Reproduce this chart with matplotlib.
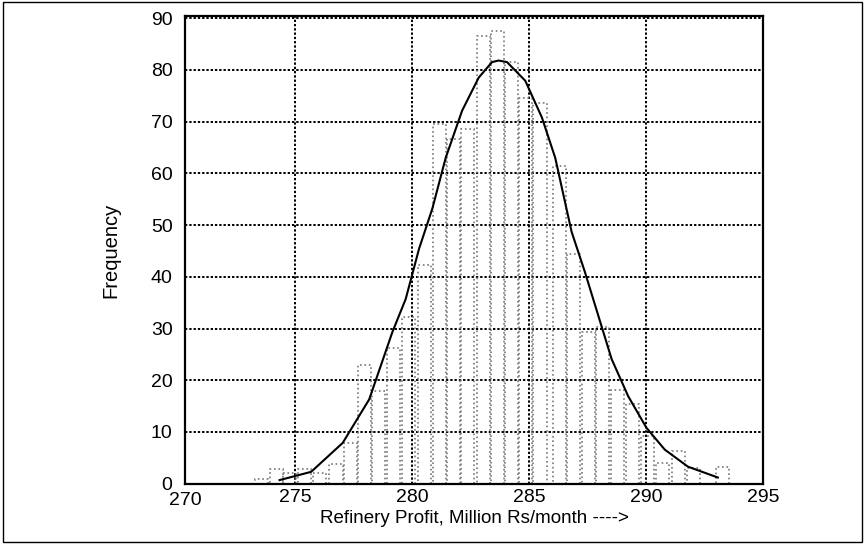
import matplotlib.pyplot as plt
from matplotlib.patches import Rectangle

plt.rcParams['font.family'] = ['Liberation Sans', 'DejaVu Sans']

# histogram bins (left edge, Million Rs/month) and counts
bin_left = [273.28, 273.92, 274.47, 275.11, 275.75, 276.47, 277.11, 277.70,
            278.30, 278.94, 279.58, 280.26, 280.90, 281.49, 282.09, 282.77,
            283.36, 283.96, 284.56, 285.19, 286.04, 286.64, 287.28, 287.87,
            288.51, 289.15, 289.79, 290.43, 291.11, 291.75, 292.34, 292.98]
counts = [0.9, 2.8, 2.0, 2.9, 2.1, 3.9, 7.9, 23.0,
          18.0, 26.3, 32.3, 42.3, 69.5, 66.6, 68.5, 86.5,
          87.5, 81.5, 74.5, 73.5, 61.5, 44.5, 29.3, 30.3,
          18.2, 15.4, 9.2, 4.0, 6.3, 3.1, 0.0, 3.3]

# fitted curve
fit_x = [274.34, 275.69, 277.04, 278.17, 279.16, 279.73, 280.30, 280.87,
         281.44, 282.14, 282.85, 283.42, 283.70, 284.06, 284.84, 285.55,
         286.12, 286.82, 287.39, 287.96, 288.53, 289.24, 290.02, 290.80,
         291.79, 293.07]
fit_y = [0.7, 2.3, 7.9, 16.3, 29.3, 35.7, 45.4, 53.2,
         63.0, 72.1, 78.5, 81.5, 81.8, 81.5, 77.9, 70.8,
         63.0, 48.7, 40.9, 32.5, 24.1, 16.9, 10.8, 6.6,
         3.3, 1.2]

fig = plt.figure(figsize=(8.65, 5.44), dpi=100)
ax = fig.add_axes([0.2139, 0.1108, 0.6682, 0.8597])

ax.bar(bin_left, counts, width=0.56, align='edge', facecolor='none',
       edgecolor='#777777', linestyle=':', linewidth=1.2, zorder=2)
ax.plot(fit_x, fit_y, color='black', linewidth=1.5, zorder=3)

ax.set_xlim(270.3, 295.0)
ax.set_ylim(0, 90.4)
ax.set_xticks([275, 280, 285, 290, 295])
ax.set_yticks(range(0, 91, 10))
ax.tick_params(length=0, labelsize=14, pad=9)
ax.tick_params(axis='x', pad=4)
ax.text(270.3, -1.6, '270', ha='center', va='top', fontsize=14)

ax.grid(True, color='black', linestyle=(0, (1.2, 1.0)), linewidth=1.4, zorder=1)
ax.set_axisbelow(True)
for sp in ax.spines.values():
    sp.set_linewidth(1.6)

ax.set_ylabel('Frequency', fontsize=14.5, labelpad=22)
ax.set_xlabel('Refinery Profit, Million Rs/month ---->', fontsize=13.5, labelpad=3)

fig.patches.append(Rectangle((0.003, 0.004), 0.994, 0.992, transform=fig.transFigure,
                             fill=False, edgecolor='black', linewidth=1.0))

fig.savefig('out.png', dpi=100)
